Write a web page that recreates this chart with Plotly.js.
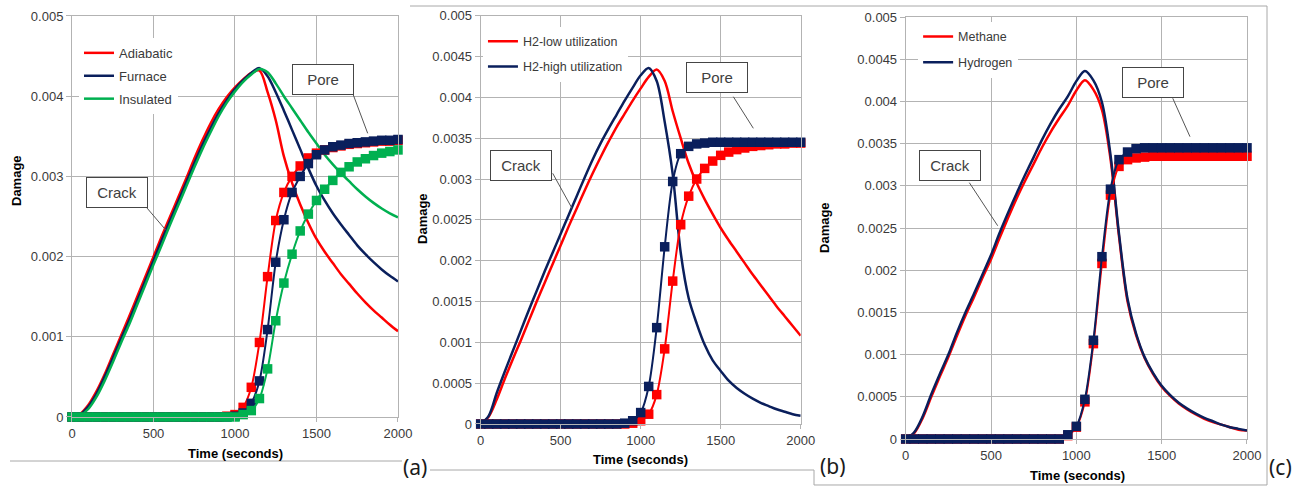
<!DOCTYPE html>
<html>
<head>
<meta charset="utf-8">
<script src="https://cdn.plot.ly/plotly-3.0.1.min.js"></script>
<style>
html, body { margin: 0; padding: 0; background: #ffffff; }
#chart { width: 1306px; height: 486px; }
</style>
</head>
<body>
<div id="chart"></div>
<script>
// ---------- DATA ----------
const time = [0,50,100,150,200,250,300,350,400,450,500,550,600,650,700,750,800,850,900,950,1000,
              1050,1100,1150,1200,1250,1300,1350,1400,1450,1500,1550,1600,1650,1700,1750,1800,1850,1900,1950,2000];

// Panel (a)
const seriesNamesA = ['Adiabatic', 'Furnace', 'Insulated'];
const crackAdiabatic = [0,0.00004,0.00015,0.00032,0.00053,0.00077,0.00101,0.00125,0.0015,0.00175,0.002,
  0.00225,0.00249,0.00273,0.00297,0.00322,0.00345,0.00366,0.00384,0.00399,0.00411,
  0.00421,0.00429,0.00432,0.00405,0.0037,0.00325,0.00292,0.00265,0.00242,0.00222,
  0.00206,0.00192,0.00178,0.00166,0.00154,0.00143,0.00133,0.00124,0.00115,0.00107];
const crackFurnace = [0,0.00003,0.00013,0.00029,0.0005,0.00073,0.00097,0.0012,0.00145,0.0017,0.00195,
  0.0022,0.00244,0.00268,0.00292,0.00316,0.00339,0.0036,0.00379,0.00395,0.00409,
  0.0042,0.00429,0.00435,0.00425,0.00405,0.00382,0.00358,0.00334,0.0031,0.00288,
  0.0027,0.00254,0.0024,0.00227,0.00214,0.00203,0.00193,0.00184,0.00176,0.00169];
const crackInsulated = [0,0.00002,0.0001,0.00025,0.00045,0.00068,0.00092,0.00115,0.0014,0.00165,0.0019,
  0.00214,0.00239,0.00263,0.00287,0.00311,0.00334,0.00355,0.00375,0.00392,0.00406,
  0.00418,0.00427,0.00434,0.0043,0.00416,0.004,0.00385,0.0037,0.00355,0.00341,
  0.00327,0.00315,0.00304,0.00294,0.00284,0.00275,0.00267,0.0026,0.00254,0.00249];
const poreAdiabatic = [0,0,0,0,0,0,0,0,0,0,0,0,0,0,0,0,0,0,0,0.00001,0.00003,
  0.00012,0.00037,0.00093,0.00175,0.00245,0.0028,0.003,0.00313,0.00323,0.00329,
  0.00333,0.00336,0.00338,0.0034,0.00341,0.00342,0.00343,0.00344,0.00344,0.00345];
const poreFurnace = [0,0,0,0,0,0,0,0,0,0,0,0,0,0,0,0,0,0,0,0,0.00001,
  0.00005,0.00017,0.00045,0.00109,0.00193,0.00246,0.0028,0.003,0.00316,0.00327,
  0.00333,0.00337,0.00339,0.00341,0.00342,0.00343,0.00344,0.00345,0.00345,0.00346];
const poreInsulated = [0,0,0,0,0,0,0,0,0,0,0,0,0,0,0,0,0,0,0,0,0,
  0.00003,0.00008,0.00023,0.0006,0.0012,0.00167,0.00203,0.00232,0.00253,0.0027,
  0.00284,0.00295,0.00305,0.00312,0.00318,0.00322,0.00326,0.00329,0.00331,0.00333];

// Panel (b)
const seriesNamesB = ['H2-low utilization', 'H2-high utilization'];
const crackH2Low = [0,0.00009,0.0003,0.00055,0.00079,0.00102,0.00126,0.0015,0.00173,0.00196,0.00219,
  0.00242,0.00264,0.00286,0.00307,0.00327,0.00346,0.00364,0.0038,0.00396,0.00411,
  0.00425,0.00434,0.0042,0.00383,0.0035,0.00319,0.00295,0.00275,0.00257,0.0024,
  0.00225,0.00211,0.00197,0.00183,0.0017,0.00157,0.00144,0.00132,0.0012,0.00108];
const crackH2High = [0,0.0001,0.00038,0.00064,0.00089,0.00114,0.00139,0.00163,0.00187,0.0021,0.00233,
  0.00256,0.00279,0.00302,0.00324,0.00344,0.00362,0.00379,0.00396,0.00412,0.00427,
  0.00436,0.0042,0.0037,0.00306,0.0021,0.00154,0.00123,0.00097,0.00078,0.00065,
  0.00053,0.00044,0.00037,0.00031,0.00026,0.00022,0.00018,0.00015,0.00012,0.0001];
const poreH2Low = [0,0,0,0,0,0,0,0,0,0,0,0,0,0,0,0,0,0,0,0.00001,0.00004,
  0.00012,0.00036,0.00092,0.00175,0.00244,0.00279,0.003,0.00313,0.00322,0.00329,
  0.00333,0.00336,0.00338,0.0034,0.00341,0.00342,0.00343,0.00343,0.00344,0.00344];
const poreH2High = [0,0,0,0,0,0,0,0,0,0,0,0,0,0,0,0,0,0,0.00001,0.00004,0.00014,
  0.00046,0.00118,0.00217,0.00297,0.00331,0.0034,0.00343,0.00344,0.00345,0.00345,
  0.00345,0.00345,0.00345,0.00345,0.00345,0.00345,0.00345,0.00345,0.00345,0.00345];

// Panel (c)
const seriesNamesC = ['Methane', 'Hydrogen'];
const crackMethane = [0,0.00007,0.00025,0.0005,0.00074,0.00097,0.00122,0.00146,0.00168,0.00191,0.00213,
  0.00238,0.00262,0.00285,0.00306,0.00326,0.00346,0.00364,0.0038,0.00395,0.00413,
  0.00425,0.00414,0.0039,0.00332,0.0024,0.00163,0.00123,0.00096,0.00077,0.00062,
  0.00051,0.00042,0.00035,0.00029,0.00024,0.0002,0.00017,0.00014,0.00011,0.0001];
const crackHydrogen = [0,0.00008,0.00027,0.00053,0.00077,0.001,0.00126,0.0015,0.00172,0.00195,0.00218,
  0.00244,0.00268,0.00291,0.00313,0.00334,0.00355,0.00374,0.00391,0.00406,0.00424,
  0.00436,0.00425,0.00399,0.00337,0.00243,0.00166,0.00125,0.00097,0.00078,0.00063,
  0.00052,0.00043,0.00036,0.0003,0.00025,0.00021,0.00017,0.00014,0.00012,0.0001];
const poreMethane = [0,0,0,0,0,0,0,0,0,0,0,0,0,0,0,0,0,0,0,0.00004,0.00014,
  0.00044,0.00113,0.00208,0.00289,0.00323,0.00331,0.00333,0.00334,0.00335,0.00335,
  0.00335,0.00335,0.00335,0.00335,0.00335,0.00335,0.00335,0.00335,0.00335,0.00335];
const poreHydrogen = [0,0,0,0,0,0,0,0,0,0,0,0,0,0,0,0,0,0,0,0.00005,0.00015,
  0.00047,0.00117,0.00216,0.00296,0.00331,0.0034,0.00344,0.00345,0.00345,0.00345,
  0.00345,0.00345,0.00345,0.00345,0.00345,0.00345,0.00345,0.00345,0.00345,0.00345];

// Ticks
const xTicks = [0, 500, 1000, 1500, 2000];
const xTickText = ['0', '500', '1000', '1500', '2000'];
const yTicksA = [0, 0.001, 0.002, 0.003, 0.004, 0.005];
const yTickTextA = ['0', '0.001', '0.002', '0.003', '0.004', '0.005'];
const yTicksBC = [0, 0.0005, 0.001, 0.0015, 0.002, 0.0025, 0.003, 0.0035, 0.004, 0.0045, 0.005];
const yTickTextBC = ['0', '0.0005', '0.001', '0.0015', '0.002', '0.0025', '0.003', '0.0035', '0.004', '0.0045', '0.005'];

const xTitle = 'Time (seconds)';
const yTitle = 'Damage';
const crackLabel = 'Crack';
const poreLabel = 'Pore';

// ---------- STYLE ----------
const RED = '#ff0000', NAVY = '#0a1f5c', GREEN = '#00b050';
const GRID = '#b3b3b3';
const FONT = 'Liberation Sans, Arial, sans-serif';

function crack(y, color, name, xa, ya, legend, group) {
  return { type: 'scatter', mode: 'lines', x: time, y: y, name: name,
    xaxis: xa, yaxis: ya, legend: legend, legendgroup: group,
    line: { color: color, width: 2.5, shape: 'spline', smoothing: 0.9 } };
}
function pore(y, color, name, xa, ya, legend, group) {
  return { type: 'scatter', mode: 'lines+markers', x: time, y: y, name: name + ' (pore)',
    xaxis: xa, yaxis: ya, legend: legend, legendgroup: group, showlegend: false, cliponaxis: false,
    line: { color: color, width: 2, shape: 'spline', smoothing: 0.8 },
    marker: { symbol: 'square', size: 9.5, color: color } };
}

const traces = [
  crack(crackAdiabatic, RED, seriesNamesA[0], 'x', 'y', 'legend', 'a1'),
  crack(crackFurnace, NAVY, seriesNamesA[1], 'x', 'y', 'legend', 'a2'),
  crack(crackInsulated, GREEN, seriesNamesA[2], 'x', 'y', 'legend', 'a3'),
  pore(poreAdiabatic, RED, seriesNamesA[0], 'x', 'y', 'legend', 'a1'),
  pore(poreFurnace, NAVY, seriesNamesA[1], 'x', 'y', 'legend', 'a2'),
  pore(poreInsulated, GREEN, seriesNamesA[2], 'x', 'y', 'legend', 'a3'),

  crack(crackH2Low, RED, seriesNamesB[0], 'x2', 'y2', 'legend2', 'b1'),
  crack(crackH2High, NAVY, seriesNamesB[1], 'x2', 'y2', 'legend2', 'b2'),
  pore(poreH2Low, RED, seriesNamesB[0], 'x2', 'y2', 'legend2', 'b1'),
  pore(poreH2High, NAVY, seriesNamesB[1], 'x2', 'y2', 'legend2', 'b2'),

  crack(crackMethane, RED, seriesNamesC[0], 'x3', 'y3', 'legend3', 'c1'),
  crack(crackHydrogen, NAVY, seriesNamesC[1], 'x3', 'y3', 'legend3', 'c2'),
  pore(poreMethane, RED, seriesNamesC[0], 'x3', 'y3', 'legend3', 'c1'),
  pore(poreHydrogen, NAVY, seriesNamesC[1], 'x3', 'y3', 'legend3', 'c2')
];

function xAxis(domain, anchor) {
  return { domain: domain, anchor: anchor, range: [0, 2000], tickmode: 'array',
    tickvals: xTicks, ticktext: xTickText, showgrid: true, gridcolor: GRID, gridwidth: 1,
    zeroline: false, showline: true, linecolor: GRID, linewidth: 1, mirror: true,
    ticks: 'outside', ticklen: 4, tickcolor: GRID,
    tickfont: { family: FONT, size: 13, color: '#3a3a3a' }, fixedrange: true };
}
function yAxis(domain, anchor, tv, tt) {
  return { domain: domain, anchor: anchor, range: [0, 0.005], tickmode: 'array',
    tickvals: tv, ticktext: tt, showgrid: true, gridcolor: GRID, gridwidth: 1,
    zeroline: false, showline: true, linecolor: GRID, linewidth: 1, mirror: true,
    ticks: 'outside', ticklen: 5, tickcolor: GRID,
    tickfont: { family: FONT, size: 13, color: '#3a3a3a' }, fixedrange: true };
}

function legendBox(x, y, size, gap) {
  return { x: x, y: y, xanchor: 'left', yanchor: 'top', xref: 'paper', yref: 'paper',
    bgcolor: '#ffffff', borderwidth: 0, tracegroupgap: gap, traceorder: 'grouped',
    font: { family: FONT, size: size, color: '#3a3a3a' } };
}

function boxLabel(text, xref, yref, x, y) {
  return { text: text, xref: xref, yref: yref, x: x, y: y, showarrow: false,
    xanchor: 'center', yanchor: 'middle', width: 60, height: 29, borderpad: 0,
    bordercolor: '#454545', borderwidth: 1, bgcolor: '#ffffff',
    font: { family: FONT, size: 15, color: '#404040' } };
}
function pointer(xref, yref, x0, y0, x1, y1) {
  return { type: 'line', xref: xref, yref: yref, x0: x0, y0: y0, x1: x1, y1: y1,
    line: { color: '#555555', width: 1 } };
}
function paperText(text, x, y, size, bold, angle) {
  return { text: bold ? '<b>' + text + '</b>' : text, xref: 'paper', yref: 'paper', x: x, y: y,
    showarrow: false, xanchor: 'center', yanchor: 'middle', textangle: angle || 0,
    font: { family: FONT, size: size, color: '#000000' } };
}
function frameLine(x0, y0, x1, y1) {
  return { type: 'line', xref: 'paper', yref: 'paper', x0: x0, y0: y0, x1: x1, y1: y1,
    line: { color: '#a8a8a8', width: 1 } };
}

const layout = {
  width: 1306, height: 486, autosize: false,
  margin: { l: 0, r: 0, t: 0, b: 0, pad: 0 },
  paper_bgcolor: '#ffffff', plot_bgcolor: '#ffffff',
  font: { family: FONT },
  xaxis: xAxis([0.05513, 0.30475], 'y'),
  yaxis: yAxis([0.14198, 0.96708], 'x', yTicksA, yTickTextA),
  xaxis2: xAxis([0.36807, 0.61309], 'y2'),
  yaxis2: yAxis([0.12757, 0.96770], 'x2', yTicksBC, yTickTextBC),
  xaxis3: xAxis([0.69349, 0.95482], 'y3'),
  yaxis3: yAxis([0.09671, 0.96502], 'x3', yTicksBC, yTickTextBC),
  legend: legendBox(0.0605, 0.922, 13, 3),
  legend2: legendBox(0.3698, 0.945, 12.5, 6),
  legend3: legendBox(0.7030, 0.955, 12.5, 6.6),
  annotations: [
    boxLabel(crackLabel, 'x', 'y', 276, 0.0028),
    boxLabel(poreLabel, 'x', 'y', 1540, 0.004214),
    boxLabel(crackLabel, 'x2', 'y2', 251, 0.003162),
    boxLabel(poreLabel, 'x2', 'y2', 1476, 0.00424),
    boxLabel(crackLabel, 'x3', 'y3', 258, 0.003237),
    boxLabel(poreLabel, 'x3', 'y3', 1451, 0.004224),
    paperText(xTitle, 0.1807, 0.0679, 13, true),
    paperText(xTitle, 0.4908, 0.0535, 13, true),
    paperText(xTitle, 0.8247, 0.0226, 13, true),
    paperText(yTitle, 0.01225, 0.6296, 13, true, -90),
    paperText(yTitle, 0.3231, 0.5514, 13, true, -90),
    paperText(yTitle, 0.6317, 0.5309, 13, true, -90),
    { text: '(a)', xref: 'paper', yref: 'paper', x: 0.3178, y: 0.0391, showarrow: false,
      xanchor: 'center', yanchor: 'middle', font: { family: 'Noto Sans, sans-serif', size: 21, color: '#1a1a1a' } },
    { text: '(b)', xref: 'paper', yref: 'paper', x: 0.6378, y: 0.0412, showarrow: false,
      xanchor: 'center', yanchor: 'middle', font: { family: 'Noto Sans, sans-serif', size: 21, color: '#1a1a1a' } },
    { text: '(c)', xref: 'paper', yref: 'paper', x: 0.9801, y: 0.0391, showarrow: false,
      xanchor: 'center', yanchor: 'middle', font: { family: 'Noto Sans, sans-serif', size: 21, color: '#1a1a1a' } }
  ],
  shapes: [
    pointer('x', 'y', 460, 0.002606, 575, 0.002332),
    pointer('x', 'y', 1726, 0.004015, 1814, 0.003537),
    pointer('x2', 'y2', 450, 0.00307, 573, 0.002633),
    pointer('x2', 'y2', 1579, 0.004008, 1704, 0.003621),
    pointer('x3', 'y3', 373, 0.003037, 539, 0.002527),
    pointer('x3', 'y3', 1565, 0.004037, 1666, 0.003582),
    frameLine(0.00766, 0.05144, 0.30781, 0.05144),
    frameLine(0.31394, 0.98765, 0.97014, 0.98765),
    frameLine(0.32925, 0.03292, 0.62328, 0.03292),
    frameLine(0.62328, 0.03292, 0.62328, 0.00206),
    frameLine(0.62328, 0.00206, 0.97014, 0.00206),
    frameLine(0.97014, 0.98765, 0.97014, 0.00206)
  ]
};

Plotly.newPlot('chart', traces, layout, { displayModeBar: false, staticPlot: true });
</script>
</body>
</html>
